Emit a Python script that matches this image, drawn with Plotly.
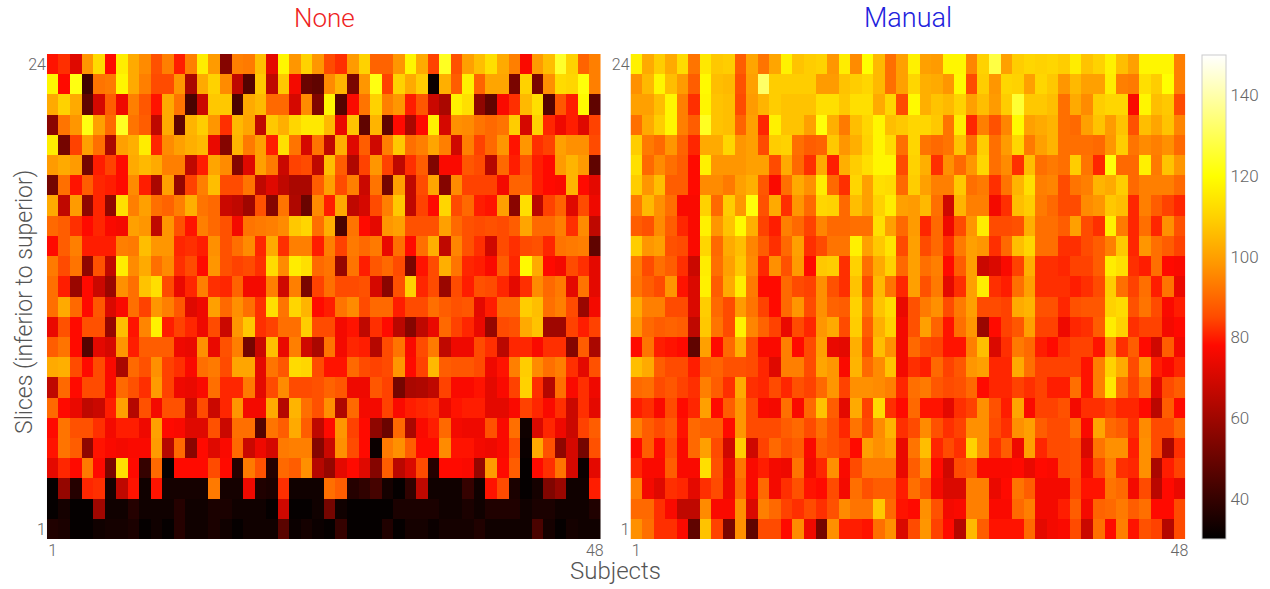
import plotly.graph_objects as go

subjects = list(range(1, 49))
slices = list(range(1, 25))
x_ticks = [1, 48]
y_ticks = [1, 24]
bar_ticks = [40, 60, 80, 100, 120, 140]

# rows listed from slice 24 (top) down to slice 1 (bottom)
none_rows = [
[79,82,72,98,112,78,116,102,96,86,94,80,94,116,99,55,94,93,106,73,118,98,110,98,85,82,99,110,89,89,98,118,102,84,124,86,100,106,113,102,94,77,99,106,125,110,89,94],
[118,78,122,42,92,93,118,102,94,85,85,98,62,102,110,96,66,46,108,66,108,76,50,48,96,104,53,98,122,84,110,102,109,32,103,88,117,89,101,101,53,110,53,97,112,111,121,94],
[102,110,102,48,70,88,75,94,87,79,102,92,44,68,108,108,44,102,105,90,90,70,96,54,118,46,77,92,110,94,98,80,87,68,62,117,113,57,48,77,82,105,113,46,87,80,119,48],
[56,92,98,122,100,90,124,92,88,66,102,48,104,109,98,82,105,101,66,108,103,111,115,115,105,74,107,48,104,48,78,62,78,117,70,97,96,92,90,92,109,70,110,81,75,80,72,84],
[116,52,84,100,91,62,100,103,116,81,96,100,103,105,74,55,104,93,100,80,113,92,70,92,66,103,72,88,69,94,108,91,94,101,94,69,94,84,90,98,79,98,82,84,100,97,97,85],
[99,102,99,52,80,84,78,102,105,102,94,94,66,80,101,96,55,72,100,93,68,84,85,66,106,88,63,84,98,84,66,82,88,54,77,77,87,85,64,90,80,87,80,78,99,104,99,48],
[52,91,79,88,81,80,78,96,80,62,100,58,84,94,106,85,85,92,66,72,66,62,62,88,100,85,94,68,92,52,100,66,85,101,55,96,84,84,84,76,89,89,80,78,77,104,78,73],
[102,66,99,57,81,57,113,94,100,91,89,94,103,92,90,68,66,60,86,55,92,63,50,96,80,102,66,70,85,94,108,66,84,78,111,85,90,80,79,100,56,113,65,84,89,72,85,75],
[90,88,82,78,81,77,76,100,98,66,98,86,79,94,90,86,76,92,93,94,96,108,111,91,103,44,92,78,73,98,100,86,86,86,100,90,86,85,86,85,88,101,90,90,94,82,96,66],
[78,88,94,80,80,80,94,93,106,98,98,81,82,80,97,86,91,96,81,102,82,94,94,80,94,84,93,90,93,74,91,78,91,103,66,95,86,82,69,85,82,85,86,81,92,93,94,48],
[93,85,92,57,86,66,116,96,102,91,96,82,85,78,98,86,84,85,82,112,96,116,113,90,92,58,92,80,87,90,85,53,79,85,103,92,81,80,77,88,81,119,102,78,76,85,82,73],
[91,80,59,78,68,59,97,91,107,113,85,74,81,94,82,81,89,76,76,94,69,94,53,84,91,85,85,86,70,56,86,110,81,85,59,85,80,86,85,81,73,82,96,90,93,73,92,73],
[91,102,90,78,87,71,77,91,84,98,94,87,72,75,100,90,97,91,82,113,92,111,104,78,80,92,96,85,90,90,80,85,85,91,88,86,87,73,80,90,90,109,106,91,94,85,59,76],
[74,86,78,86,86,58,106,79,95,117,80,84,81,75,85,68,98,108,82,84,91,91,109,85,85,76,79,66,82,78,65,55,66,74,90,84,81,74,58,85,86,102,107,60,60,84,80,84],
[88,92,78,46,73,70,98,80,88,88,88,75,74,97,74,86,94,52,68,106,74,94,69,62,92,76,81,80,64,85,92,77,85,93,66,75,75,85,82,65,81,81,77,82,82,55,88,62],
[102,103,85,78,85,77,62,90,86,97,84,82,77,91,93,85,101,101,73,92,87,112,111,85,79,79,90,85,84,85,98,78,84,105,88,87,87,85,75,79,94,109,96,91,94,82,73,86],
[66,90,78,85,85,77,90,86,82,99,84,75,74,77,91,81,81,93,73,85,96,85,85,86,89,87,75,75,87,84,52,62,63,66,84,77,77,79,73,77,84,110,82,64,91,77,82,75],
[90,78,74,66,68,80,100,64,86,76,86,86,69,85,68,81,98,76,76,102,64,104,91,86,97,63,90,76,76,84,77,80,81,82,74,79,80,80,73,73,77,84,81,77,82,68,82,73],
[78,92,86,86,82,76,80,80,75,100,78,77,72,72,86,68,91,91,46,92,88,102,88,66,78,98,84,78,57,50,90,62,77,80,90,76,75,75,86,77,91,33,71,81,75,68,84,88],
[79,92,88,57,79,77,76,77,77,99,64,90,56,78,72,77,90,68,75,70,93,94,94,55,68,97,85,78,32,93,97,88,78,78,96,79,79,76,75,77,85,32,102,86,57,70,52,86],
[73,81,78,93,78,53,113,78,40,90,31,78,78,78,85,78,37,93,86,37,90,88,97,64,58,73,78,72,55,88,65,71,85,37,78,78,77,58,99,78,88,31,78,82,92,70,32,73],
[31,58,37,81,82,34,66,79,33,79,34,34,34,34,93,34,34,75,36,35,82,33,33,33,91,88,37,39,43,34,31,39,66,33,33,33,40,33,79,85,35,31,34,54,59,33,33,80],
[31,34,31,31,60,33,33,37,33,33,33,37,33,33,35,35,33,33,33,31,69,31,31,33,52,33,31,31,31,31,35,35,35,35,33,33,35,33,36,36,36,33,35,35,33,33,33,36],
[36,35,31,31,33,34,34,35,31,33,31,37,33,33,35,33,31,33,33,33,47,32,34,32,31,40,31,31,31,36,31,34,34,32,34,34,34,36,33,33,33,33,44,34,31,34,33,33],
]

manual_rows = [
[117,102,109,102,112,92,115,108,109,88,101,92,101,117,107,109,110,98,116,96,120,105,91,100,117,100,99,118,118,95,110,128,100,109,111,110,111,109,116,107,110,117,106,100,118,118,118,94],
[97,105,118,106,99,88,119,106,105,86,100,132,109,109,109,109,99,99,107,109,111,105,91,100,111,103,102,98,119,85,109,98,111,110,100,111,108,98,105,100,100,116,94,93,113,109,120,94],
[100,100,106,118,94,82,118,107,106,85,99,104,109,107,107,107,113,113,108,113,113,102,111,85,119,103,107,105,110,100,106,99,109,126,108,108,106,91,102,96,109,111,111,77,118,106,108,85],
[91,102,109,118,94,88,124,107,106,89,100,81,117,107,107,100,121,103,93,106,111,118,106,108,111,111,108,92,116,81,94,86,95,119,100,102,104,91,90,100,107,99,107,86,106,101,107,95],
[109,93,90,98,89,81,102,102,111,98,100,85,109,110,91,88,89,108,98,103,110,118,112,91,111,92,90,92,107,91,109,91,99,111,93,100,104,91,91,91,90,98,109,92,96,94,97,90],
[113,90,96,91,88,78,117,98,98,98,100,100,85,102,90,82,102,80,103,109,113,118,118,85,110,103,82,97,90,98,111,91,96,82,106,91,93,91,109,92,81,121,90,90,117,93,107,98],
[109,98,106,88,88,78,96,96,93,100,103,87,77,91,102,97,116,90,82,111,100,113,112,90,109,100,94,94,108,91,93,82,92,104,113,94,95,85,92,94,104,102,109,90,94,94,94,90],
[93,105,97,91,77,77,110,90,109,98,121,86,102,82,98,90,111,110,90,106,100,110,116,100,99,105,91,69,104,94,94,76,82,106,109,93,90,85,85,96,98,108,106,81,94,88,84,81],
[88,86,96,88,81,77,117,98,107,119,103,84,80,94,90,84,95,90,90,91,91,113,100,90,99,81,90,75,85,98,116,85,85,86,103,91,91,88,100,85,82,117,93,81,91,81,97,86],
[109,98,100,86,85,77,111,90,102,106,95,88,82,90,100,82,85,92,92,117,100,108,114,85,100,85,90,82,93,100,98,82,90,106,111,91,91,82,82,85,88,94,108,81,98,91,88,84],
[93,85,91,88,82,68,116,91,100,108,96,81,97,86,99,78,108,109,82,110,91,102,110,90,100,91,94,78,88,100,68,71,77,84,103,82,82,81,84,84,88,116,113,82,80,91,78,77],
[92,88,85,98,79,71,117,88,102,116,93,78,78,90,85,84,97,86,82,107,85,105,92,81,100,86,93,73,82,100,116,82,80,91,100,82,82,82,80,82,85,109,91,84,91,80,92,74],
[102,94,94,85,85,71,109,90,85,99,92,84,78,90,98,85,97,89,88,110,92,107,112,74,86,93,97,85,93,100,85,85,84,102,104,86,86,81,86,87,87,110,112,86,92,85,77,80],
[98,90,88,89,88,66,108,92,85,117,95,89,84,74,85,81,98,102,85,109,88,103,110,76,86,100,89,79,91,98,59,78,84,87,100,84,84,75,81,82,88,116,110,82,84,84,76,78],
[78,92,80,79,78,48,100,78,90,103,85,77,77,94,78,85,100,74,73,103,85,106,97,76,90,85,84,79,79,94,106,71,82,93,90,80,78,82,84,84,79,97,82,88,78,69,88,76],
[106,102,88,85,85,80,88,89,86,86,85,81,72,94,94,85,101,98,77,104,90,96,107,76,82,80,90,84,87,98,100,81,81,102,91,84,84,84,84,79,94,110,102,85,98,80,77,81],
[90,91,85,87,84,82,94,88,82,102,82,81,85,81,86,84,90,98,84,97,97,96,94,81,91,93,87,85,86,90,78,81,81,84,82,84,80,80,91,79,94,115,91,84,91,73,85,88],
[80,82,77,85,78,81,100,78,88,98,85,77,76,91,77,90,107,88,73,102,84,112,82,78,90,79,79,73,82,84,97,86,80,101,77,84,84,86,76,82,82,84,81,81,78,65,88,78],
[94,88,85,88,79,90,88,88,78,98,85,85,85,88,90,85,91,86,81,92,85,96,104,82,85,96,86,82,84,97,97,85,82,97,100,88,85,85,91,77,101,90,88,82,96,85,85,90],
[78,88,78,86,77,90,100,85,69,109,69,84,90,86,88,77,88,86,84,78,100,97,100,74,92,106,81,85,82,110,97,82,88,75,100,81,85,85,86,71,92,97,97,80,97,85,62,82],
[81,77,77,88,77,77,113,86,74,92,77,80,76,75,92,76,81,97,77,85,93,93,93,74,88,97,78,69,85,87,77,77,77,78,74,78,77,85,86,76,85,94,82,81,97,62,80,84],
[94,76,72,82,81,73,82,85,75,90,77,90,76,82,86,79,78,85,76,91,86,88,88,80,91,86,76,71,71,94,94,74,78,92,88,76,76,76,85,79,79,92,90,76,85,65,78,74],
[90,90,82,77,66,66,96,77,77,97,71,94,90,84,82,85,82,86,96,92,92,108,90,79,78,97,86,76,77,94,94,77,77,90,94,76,76,80,88,76,89,90,93,88,91,78,78,85],
[97,91,82,82,77,48,107,84,53,97,48,85,85,78,96,75,52,97,80,80,79,91,97,71,85,98,84,78,64,105,88,79,79,79,90,73,76,77,85,68,91,78,94,79,86,84,64,85],
]

for name, rows in (("none", none_rows), ("manual", manual_rows)):
    bad = [(i, len(r)) for i, r in enumerate(rows) if len(r) != 48]
    assert len(rows) == 24 and not bad, (name, len(rows), bad)

scale = [
    [0.0, "rgb(0,0,0)"],
    [0.4, "rgb(255,10,0)"],
    [0.4583, "rgb(255,75,0)"],
    [0.5, "rgb(255,105,0)"],
    [0.5667, "rgb(255,150,0)"],
    [0.6667, "rgb(255,210,0)"],
    [0.75, "rgb(255,255,0)"],
    [1.0, "rgb(255,255,255)"],
]

W, H = 1270, 589
font_family = "Roboto Light, Roboto, sans-serif"
grey = "#666666"

fig = go.Figure()
fig.add_trace(go.Heatmap(
    z=none_rows[::-1], x=subjects, y=slices, zmin=30, zmax=150,
    colorscale=scale, xaxis="x", yaxis="y", showscale=False,
))
fig.add_trace(go.Heatmap(
    z=manual_rows[::-1], x=subjects, y=slices, zmin=30, zmax=150,
    colorscale=scale, xaxis="x2", yaxis="y2", showscale=True,
    colorbar=dict(
        x=1205 / W, xanchor="left", xpad=0, thickness=24, thicknessmode="pixels",
        y=1 - 539 / H, yanchor="bottom", ypad=0, len=484 / H, lenmode="fraction",
        tickvals=bar_ticks, ticks="", outlinecolor="#cccccc", outlinewidth=1,
        tickfont=dict(family=font_family, size=17, color=grey),
    ),
))

axis_common = dict(
    showgrid=False, zeroline=False, showline=False, ticks="", constrain="domain",
    tickfont=dict(family=font_family, size=16, color=grey),
)
fig.update_layout(
    width=W, height=H, margin=dict(l=0, r=0, t=0, b=0), autosize=False,
    paper_bgcolor="white", plot_bgcolor="white",
    font=dict(family=font_family, color=grey),
    xaxis=dict(domain=[47 / W, 602 / W], range=[0.5, 48.5], tickvals=x_ticks, **axis_common),
    yaxis=dict(domain=[1 - 539 / H, 1 - 54 / H], range=[0.5, 24.5], tickvals=y_ticks, **axis_common),
    xaxis2=dict(domain=[632 / W, 1188 / W], range=[0.5, 48.5], tickvals=x_ticks, **axis_common),
    yaxis2=dict(domain=[1 - 539 / H, 1 - 54 / H], range=[0.5, 24.5], tickvals=y_ticks, anchor="x2", **axis_common),
    annotations=[
        dict(text="None", x=325 / W, y=1 - 18 / H, xref="paper", yref="paper", showarrow=False,
             xanchor="center", yanchor="middle", font=dict(family=font_family, size=26, color="#ee2222")),
        dict(text="Manual", x=910 / W, y=1 - 18 / H, xref="paper", yref="paper", showarrow=False,
             xanchor="center", yanchor="middle", font=dict(family=font_family, size=27, color="#2222dd")),
        dict(text="Subjects", x=617 / W, y=1 - 571 / H, xref="paper", yref="paper", showarrow=False,
             xanchor="center", yanchor="middle", font=dict(family=font_family, size=24, color="#555555")),
        dict(text="Slices (inferior to superior)", x=24 / W, y=1 - 302 / H, xref="paper", yref="paper",
             showarrow=False, textangle=-90, xanchor="center", yanchor="middle",
             font=dict(family=font_family, size=23, color="#555555")),
    ],
)
fig.write_html("out.html", config={"displayModeBar": False}, post_script="document.body.style.margin='0';")
